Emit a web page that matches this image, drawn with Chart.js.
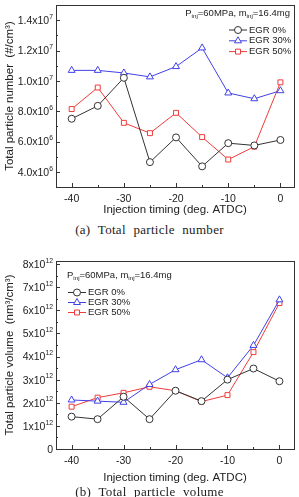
<!DOCTYPE html>
<html>
<head>
<meta charset="utf-8">
<script src="https://cdn.jsdelivr.net/npm/chart.js@4"></script>
<style>
  body { margin: 0; background: #fff; width: 299px; height: 497px; overflow: hidden; position: relative; }
  canvas { position: absolute; left: 0; }
  #numberChart { top: 0; }
  #volumeChart { top: 240px; }
  .caption {
    position: absolute; left: 0; width: 299px; text-align: center;
    font-family: "Liberation Serif", "Times New Roman", serif;
    font-size: 13px; word-spacing: 4px; letter-spacing: 0.3px; color: #222;
  }
</style>
</head>
<body>
<canvas id="numberChart" width="299" height="217"></canvas>
<div class="caption" style="top:222px">(a) Total particle number</div>
<canvas id="volumeChart" width="299" height="245"></canvas>
<div class="caption" style="top:484px">(b) Total particle volume</div>
<script>
// injection timing (deg. ATDC)
var timing = [-40, -35, -30, -25, -20, -15, -10, -5, 0];
var seriesNames = ["EGR 0%", "EGR 30%", "EGR 50%"];

// total particle number (#/cm3)
var numberEgr0 = [7.5e6, 8.35e6, 1.02e7, 4.64e6, 6.27e6, 4.36e6, 5.89e6, 5.74e6, 6.1e6];
var numberEgr30 = [1.069e7, 1.069e7, 1.052e7, 1.026e7, 1.094e7, 1.217e7, 9.2e6, 8.82e6, 9.35e6];
var numberEgr50 = [8.14e6, 9.56e6, 7.23e6, 6.55e6, 7.89e6, 6.29e6, 4.81e6, 5.66e6, 9.9e6];

// total particle volume (nm3/cm3)
var volumeEgr0 = [1.4e12, 1.29e12, 2.26e12, 1.29e12, 2.52e12, 2.07e12, 3.0e12, 3.48e12, 2.93e12];
var volumeEgr30 = [2.12e12, 2.07e12, 2.02e12, 2.79e12, 3.43e12, 3.86e12, 3.08e12, 4.48e12, 6.45e12];
var volumeEgr50 = [1.83e12, 2.22e12, 2.43e12, 2.69e12, 2.52e12, 2.05e12, 2.33e12, 4.19e12, 6.31e12];

// axis ticks
var timingTicks = [-40, -30, -20, -10, 0];
var timingMinor = [-35, -25, -15, -5];
var numberTicks = [4e6, 6e6, 8e6, 1e7, 1.2e7, 1.4e7];
var numberMinor = [3e6, 5e6, 7e6, 9e6, 1.1e7, 1.3e7, 1.5e7];
var volumeTicks = [0, 1e12, 2e12, 3e12, 4e12, 5e12, 6e12, 7e12, 8e12];
var volumeMinor = [5e11, 1.5e12, 2.5e12, 3.5e12, 4.5e12, 5.5e12, 6.5e12, 7.5e12];

var FONT = "'Liberation Sans', Arial, sans-serif";
var styles = [
  { color: "#333333", pointStyle: "circle", radius: 3.5 },
  { color: "#4040e8", pointStyle: "triangle", radius: 4 },
  { color: "#ee3b3b", pointStyle: "rect", radius: 3.5 }
];

function makeDatasets(lists) {
  return lists.map(function (vals, i) {
    return {
      label: seriesNames[i],
      data: timing.map(function (t, j) { return { x: t, y: vals[j] }; }),
      borderColor: styles[i].color,
      borderWidth: 1,
      pointStyle: styles[i].pointStyle,
      pointRadius: styles[i].radius,
      pointBorderColor: styles[i].color,
      pointBackgroundColor: "#fff",
      pointBorderWidth: 1
    };
  });
}

// text with small raised/lowered parts
function drawRich(ctx, parts, x, y, align, size) {
  var total = 0;
  parts.forEach(function (p) {
    ctx.font = (p.sub || p.sup ? size * 0.65 : size) + "px " + FONT;
    p.w = ctx.measureText(p.t).width;
    total += p.w;
  });
  var cx = align === "right" ? x - total : x;
  ctx.textBaseline = "middle";
  ctx.textAlign = "left";
  parts.forEach(function (p) {
    ctx.font = (p.sub || p.sup ? size * 0.65 : size) + "px " + FONT;
    var dy = p.sub ? size * 0.35 : (p.sup ? -size * 0.4 : 0);
    ctx.fillText(p.t, cx, y + dy);
    cx += p.w;
  });
}

function sciParts(v, digits) {
  if (v === 0) return [{ t: "0" }];
  var e = Math.floor(Math.log10(v) + 1e-9);
  var m = v / Math.pow(10, e);
  return [{ t: m.toFixed(digits) + "x10" }, { t: String(e), sup: true }];
}

var framePlugin = {
  id: "frame",
  afterDraw: function (chart) {
    var o = chart.options.plugins.frame;
    var ctx = chart.ctx;
    var a = chart.chartArea;
    var xs = chart.scales.x, ys = chart.scales.y;
    ctx.save();
    ctx.strokeStyle = "#333";
    ctx.lineWidth = 1;
    ctx.strokeRect(Math.round(a.left) + 0.5, Math.round(a.top) + 0.5,
      Math.round(a.right - a.left), Math.round(a.bottom - a.top));
    ctx.beginPath();
    function xTick(v, len) {
      var px = Math.round(xs.getPixelForValue(v)) + 0.5;
      ctx.moveTo(px, a.bottom); ctx.lineTo(px, a.bottom - len);
    }
    function yTick(v, len) {
      var py = Math.round(ys.getPixelForValue(v)) + 0.5;
      ctx.moveTo(a.left, py); ctx.lineTo(a.left + len, py);
    }
    timingTicks.forEach(function (v) { xTick(v, 4); });
    timingMinor.forEach(function (v) { xTick(v, 2); });
    o.yTicks.forEach(function (v) { yTick(v, 4); });
    o.yMinor.forEach(function (v) { if (v < ys.max) yTick(v, 2); });
    ctx.stroke();

    // y tick labels
    ctx.fillStyle = "#222";
    o.yTicks.forEach(function (v) {
      drawRich(ctx, sciParts(v, o.digits), a.left - 3, ys.getPixelForValue(v) + 1, "right", 10.5);
    });

    // condition text
    ctx.fillStyle = "#222";
    drawRich(ctx, [{ t: "P" }, { t: "inj", sub: true }, { t: "=60MPa, m" }, { t: "inj", sub: true }, { t: "=16.4mg" }],
      o.condX, o.condY, o.condAlign, 9.5);

    // legend
    chart.data.datasets.forEach(function (ds, i) {
      var ly = o.legY + i * o.legStep;
      ctx.strokeStyle = ds.borderColor;
      ctx.lineWidth = 1;
      ctx.beginPath();
      ctx.moveTo(o.legX, ly); ctx.lineTo(o.legX + 18, ly);
      ctx.stroke();
      ctx.fillStyle = "#fff";
      Chart.helpers.drawPoint(ctx, { pointStyle: ds.pointStyle, radius: ds.pointRadius, rotation: 0, borderWidth: 1 }, o.legX + 9, ly);
      ctx.fillStyle = "#222";
      ctx.font = "9.5px " + FONT;
      ctx.textAlign = "left";
      ctx.textBaseline = "middle";
      ctx.fillText(ds.label, o.legX + 20, ly);
    });
    ctx.restore();
  }
};

function makeChart(id, lists, cfg) {
  var H = cfg.height;
  return new Chart(document.getElementById(id), {
    type: "line",
    data: { datasets: makeDatasets(lists) },
    plugins: [framePlugin],
    options: {
      responsive: false,
      animation: false,
      devicePixelRatio: 1,
      layout: { padding: { top: cfg.area.top, right: 299 - cfg.area.right, left: 0, bottom: 0 } },
      plugins: {
        legend: { display: false },
        tooltip: { enabled: false },
        frame: cfg
      },
      scales: {
        x: {
          type: "linear",
          min: cfg.xMin, max: cfg.xMax,
          afterFit: function (s) { s.height = H - cfg.area.bottom; },
          afterBuildTicks: function (s) { s.ticks = timingTicks.map(function (v) { return { value: v }; }); },
          grid: { display: false, drawTicks: false },
          border: { display: false },
          ticks: { padding: 6, color: "#222", font: { family: FONT, size: 10.5 }, maxRotation: 0 },
          title: { display: true, text: "Injection timing (deg. ATDC)", color: "#222",
            font: { family: FONT, size: 11.5 }, padding: { top: 0, bottom: 0 } }
        },
        y: {
          min: cfg.yMin, max: cfg.yMax,
          afterFit: function (s) { s.width = cfg.area.left; },
          afterBuildTicks: function (s) { s.ticks = cfg.yTicks.map(function (v) { return { value: v }; }); },
          grid: { display: false, drawTicks: false },
          border: { display: false },
          ticks: { display: false },
          title: { display: true, text: cfg.yTitle, color: "#222",
            font: { family: FONT, size: 11.5 }, padding: { top: 3, bottom: 0 } }
        }
      }
    }
  });
}

makeChart("numberChart", [numberEgr0, numberEgr30, numberEgr50], {
  height: 217,
  area: { left: 56, top: 0, right: 295, bottom: 187 },
  xMin: -43, xMax: 2.6,
  yMin: 3e6, yMax: 1.5e7,
  yTicks: numberTicks, yMinor: numberMinor, digits: 1,
  yTitle: "Total particle number  (#/cm\u00b3)",
  condX: 290, condY: 13, condAlign: "right",
  legX: 229, legY: 30, legStep: 10.8
});

makeChart("volumeChart", [volumeEgr0, volumeEgr30, volumeEgr50], {
  height: 245,
  area: { left: 56, top: 21, right: 296, bottom: 209 },
  xMin: -43, xMax: 2.8,
  yMin: 0, yMax: 8.13e12,
  yTicks: volumeTicks, yMinor: volumeMinor, digits: 0,
  yTitle: "Total particle volume  (nm\u00b3/cm\u00b3)",
  condX: 67, condY: 35, condAlign: "left",
  legX: 68, legY: 52.5, legStep: 10
});
</script>
</body>
</html>
